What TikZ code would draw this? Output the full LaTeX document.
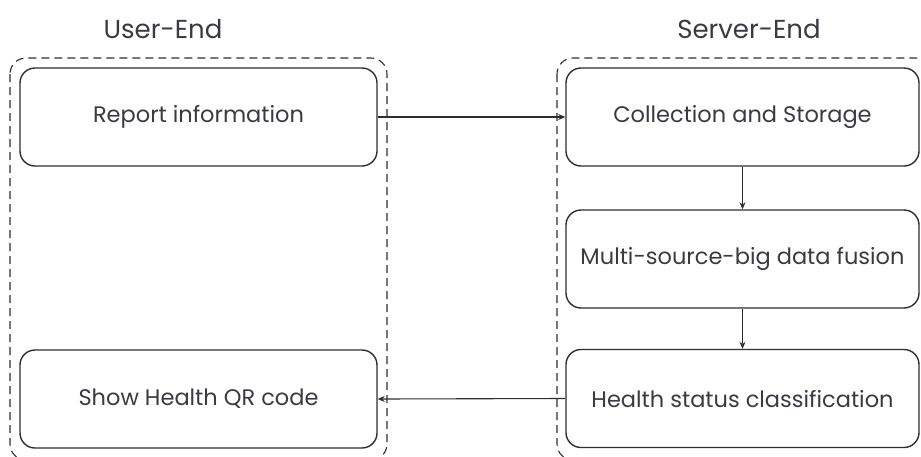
\documentclass[tikz,border=0pt]{standalone}
\usepackage{fontspec}
\setmainfont{Poppins}
\usetikzlibrary{arrows.meta}
\definecolor{ink}{HTML}{3A3A44}
\definecolor{edge}{HTML}{2E2E2E}
\tikzset{
  procbox/.style={draw=edge, line width=1.4pt, rounded corners=15pt,
    minimum width=355pt, minimum height=98pt, inner sep=0pt,
    text=ink, font=\fontsize{22.5pt}{26pt}\selectfont},
  groupbox/.style={draw=edge, line width=1.1pt, rounded corners=16pt,
    dash pattern=on 8pt off 5pt},
  grouptitle/.style={text=ink, font=\fontsize{26pt}{30pt}\selectfont},
  flow/.style={draw=edge, line width=1.1pt, -{Stealth[length=7pt,width=6pt]}}
}
\begin{document}
\begin{tikzpicture}[x=1pt, y=-1pt]
  \useasboundingbox (0,0) rectangle (921,456);
  \clip (0,0) rectangle (921,456);

  % group frames (bottom and right sides run off the canvas)
  \draw[groupbox] (10,58) rectangle (387,460);
  \draw[groupbox] (557,58) rectangle (932,460);

  % group titles
  \node[grouptitle] (utitle) at (163,29) {User-End};
  \node[grouptitle] (stitle) at (749,29) {Server-End};

  % user side
  \node[procbox, minimum width=357pt] (report) at (198.5,117) {Report information};
  \node[procbox, minimum width=357pt] (show)   at (198.5,399) {Show Health QR code};

  % server side
  \node[procbox, minimum width=353pt] (collect) at (742.5,117)   {Collection and Storage};
  \node[procbox, minimum width=353pt] (fusion)  at (742.5,259)   {Multi-source-big data fusion};
  \node[procbox, minimum width=353pt] (classify) at (742.5,398.5) {Health status classification};

  % connectors
  \draw[flow] (report.east) -- (collect.west);
  \draw[flow] (collect.south) -- (fusion.north);
  \draw[flow] (fusion.south) -- (classify.north);
  \draw[flow] (classify.west) -- (show.east);
\end{tikzpicture}
\end{document}
